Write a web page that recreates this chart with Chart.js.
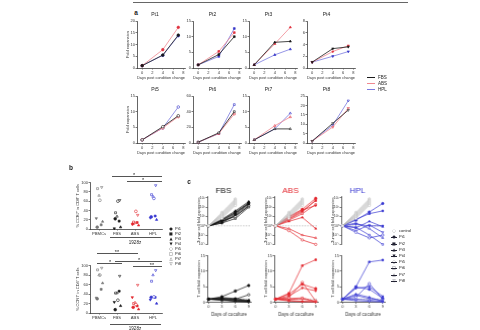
<!DOCTYPE html>
<html>
<head>
<meta charset="utf-8">
<script src="https://cdn.jsdelivr.net/npm/chart.js@4.4.1/dist/chart.umd.min.js"></script>
<style>
  body { margin: 0; background: #fff; }
  #fig { position: relative; width: 480px; height: 330px; overflow: hidden; background: #fff;
         font-family: "Liberation Sans", Arial, sans-serif; color: #222; }
  #fig canvas { position: absolute; }
  .t { position: absolute; white-space: nowrap; line-height: 1; transform: translate(-50%, -50%); }
  .l { position: absolute; white-space: nowrap; line-height: 1; transform: translateY(-50%); }
  .hl { position: absolute; height: 0; border-top: 1px solid #555; }
</style>
</head>
<body>
<div id="fig"></div>
<script>
const FONT = '"Liberation Sans", Arial, sans-serif';

/* DATA */

const patients = ["Pt1", "Pt2", "Pt3", "Pt4", "Pt5", "Pt6", "Pt7", "Pt8"];
const conditions = ["FBS", "ABS", "HPL"];

// panel a: fold expansion after condition change (days 0, 4, 7)
const aDays = [0, 4, 7];
const aXTicks = [0, 2, 4, 6, 8];
const aYMax = [20, 15, 15, 8, 15, 60, 15, 25];
const aYStep = [5, 5, 5, 2, 5, 20, 5, 5];
const aFBS = [[1, 5.5, 14], [1, 4.3, 10], [1, 8.2, 8.5], [1, 3.3, 3.6],
              [1, 5.2, 8.7], [1, 13, 40], [1, 4.5, 4.5], [1, 10.5, 17.5]];
const aABS = [[1, 7.8, 17.3], [1, 5.3, 11.3], [1, 7.7, 13], [1, 2.8, 3.8],
              [1, 4.8, 8.4], [1, 12, 37], [1, 5.5, 8.3], [1, 8.5, 18.5]];
const aHPL = [[1, 5.4, 13.7], [1, 3.7, 12.6], [1, 4.2, 6], [1, 2.0, 2.8],
              [1, 4.8, 11.5], [1, 12, 49], [1, 4.5, 9.5], [1, 9.5, 22.5]];

// panel b: % CCR7+ (one array per group, Pt1..Pt8)
const bGroups = ["PBMCs", "FBS", "ABS", "HPL"];
const bYTicks = [0, 20, 40, 60, 80, 100];
const bCD8 = [
  [4, 9, 16, 23, 62, 87, 72, 90],
  [22, 17, 4, 1, 60, 35, 27, 62],
  [12, 14, 8, 10, 38, 15, 13, 30],
  [26, 28, 20, 24, 66, 74, 70, 94]
];
const bCD4 = [
  [30, 50, 63, 32, 80, 91, 80, 95],
  [7, 46, 15, 23, 27, 42, 42, 78],
  [12, 15, 8, 33, 18, 20, 22, 59],
  [33, 33, 20, 28, 34, 67, 80, 90]
];

// panel c: coculture (days 0, 3, 6, 9)
const cDays = [0, 3, 6, 9];
const cDayTicks = [0, 3, 6, 9];
const cLogTicks = [0.01, 0.1, 1, 10, 100, 1000];
const cLogLabels = ["10\u207B\u00B2", "10\u207B\u00B9", "10\u2070", "10\u00B9", "10\u00B2", "10\u00B3"];
const cLinTicks = [0, 5, 10, 15];
const cCtrlDays = [0, 3, 6];
const cCtrl = [[1, 6, 150], [1, 8, 200], [1, 10, 260], [1, 12, 330],
               [1, 15, 420], [1, 18, 520], [1, 22, 650], [1, 28, 800]];
const cTumorFBS = [[1, 4, 30, 300], [1, 3, 20, 250], [1, 5, 40, 400], [1, 2, 15, 200],
                   [1, 3, 10, 150], [1, 2, 6, 100], [1, 4, 25, 250], [1, 3, 12, 120]];
const cTumorABS = [[1, 10, 60, 900], [1, 6, 40, 500], [1, 3, 8, 0.5], [1, 8, 50, 150],
                   [1, 0.3, 0.03, 0.01], [1, 4, 20, 200], [1, 0.5, 0.1, 0.05], [1, 5, 30, 600]];
const cTumorHPL = [[1, 4, 30, 250], [1, 5, 20, 40], [1, 0.6, 3, 0.8], [1, 1.5, 1, 1],
                   [1, 0.2, 0.05, 0.1], [1, 0.7, 0.1, 0.01], [1, 2, 0.5, 0.05], [1, 0.3, 1.2, 0.2]];
const cTcellFBS = [[1, 1.8, 3.6, 5.4], [1, 1.5, 1.2, 0.6], [1, 0.8, 0.5, 0.3], [1, 1.2, 0.9, 0.4],
                   [1, 1.3, 1.0, 2.4], [1, 0.6, 0.4, 0.2], [1, 1.0, 0.7, 0.5], [1, 0.9, 0.3, 0.1]];
const cTcellABS = [[1, 2.6, 5.8, 4.4], [1, 2.9, 11.8, 13.7], [1, 0.6, 0.3, 0.2], [1, 2.0, 4.6, 3.7],
                   [1, 1.5, 6.4, 0.4], [1, 1.2, 1.4, 0.3], [1, 0.9, 1.1, 0.2], [1, 0.4, 0.2, 0.1]];
const cTcellHPL = [[1, 4.9, 4.2, 1.3], [1, 5.0, 13.0, 13.6], [1, 2.6, 1.6, 0.3], [1, 4.5, 5.0, 1.9],
                   [1, 1.6, 6.0, 1.0], [1, 2.2, 1.2, 0.6], [1, 1.0, 0.7, 0.2], [1, 0.5, 0.3, 0.1]];

/* STYLE */

const ptStyle = ["circle", "rect", "triangle", "triangle", "circle", "rect", "triangle", "triangle"];
const ptRot = [0, 0, 0, 180, 0, 0, 0, 180];
const ptOpen = [false, false, false, false, true, true, true, true];
const ptGlyph = ["\u25CF", "\u25A0", "\u25B2", "\u25BC", "\u25CB", "\u25A1", "\u25B3", "\u25BD"];
const bJitter = [-0.1, 0.12, 0.2, -0.15, 0.05, -0.08, 0.0, 0.15];

const aLine = ["#1a1a1a", "#f08890", "#7a7ae0"];
const aMark = ["#1a1a1a", "#e03340", "#3535c8"];
const bCol = ["#777", "#1a1a1a", "#e3262d", "#3a3ad2"];
const cCol = ["#111", "#e3262d", "#3a3ad2"];
const CTRL = "#b4b4b4";
const INK = "#222";

Chart.defaults.font.family = FONT;
Chart.defaults.plugins.legend.display = false;
Chart.defaults.plugins.tooltip.enabled = false;
Chart.defaults.animation = false;

const fig = document.getElementById("fig");

function text(str, x, y, size, extra) {
  const d = document.createElement("div");
  d.className = (extra && extra.left) ? "l" : "t";
  d.textContent = str;
  d.style.left = x + "px";
  d.style.top = y + "px";
  d.style.fontSize = size + "px";
  if (extra && extra.color) d.style.color = extra.color;
  if (extra && extra.bold) d.style.fontWeight = "bold";
  if (extra && extra.family) d.style.fontFamily = extra.family;
  fig.appendChild(d);
  return d;
}

function hline(x1, x2, y, color) {
  const d = document.createElement("div");
  d.className = "hl";
  d.style.left = x1 + "px";
  d.style.top = y + "px";
  d.style.width = (x2 - x1) + "px";
  if (color) d.style.borderTopColor = color;
  fig.appendChild(d);
}

// dotted reference line at a y value
const refLine = {
  id: "refLine",
  beforeDatasetsDraw(chart, args, opts) {
    if (opts.value === undefined) return;
    const { ctx, chartArea: a } = chart;
    const py = chart.scales.y.getPixelForValue(opts.value);
    ctx.save();
    ctx.strokeStyle = "#bbb";
    ctx.lineWidth = 0.8;
    ctx.setLineDash([1.5, 1.2]);
    ctx.beginPath();
    ctx.moveTo(a.left, py);
    ctx.lineTo(a.right, py);
    ctx.stroke();
    ctx.restore();
  }
};

function axis(size, extra) {
  return Object.assign({
    grid: { drawOnChartArea: false, tickLength: 1.5, color: INK, lineWidth: 0.6 },
    border: { color: INK, width: 0.7 },
    ticks: { font: { size: size }, color: "#333", padding: 0.5, autoSkip: false, maxRotation: 0 }
  }, extra);
}

function axisTitle(str, size) {
  return { display: true, text: str, font: { size: size }, color: "#333", padding: 0 };
}

// box: x,y = plot area top-left; w,h = plot size; yW = y axis width; xH = x axis height; tH = title height
function makeChart(box, config) {
  const padT = 4, padB = 4, padR = 6;
  const canvas = document.createElement("canvas");
  const cw = box.yW + box.w + padR;
  const ch = padT + box.tH + box.h + box.xH + padB;
  canvas.width = cw;
  canvas.height = ch;
  canvas.style.width = cw + "px";
  canvas.style.height = ch + "px";
  canvas.style.left = (box.x - box.yW) + "px";
  canvas.style.top = (box.y - box.tH - padT) + "px";
  fig.appendChild(canvas);
  const o = config.options;
  o.responsive = false;
  o.animation = false;
  o.devicePixelRatio = 1;
  o.layout = { padding: { top: padT, bottom: padB, right: padR, left: 0 } };
  o.scales.y.afterFit = s => { s.width = box.yW; };
  if (o.scales.x.display !== false) o.scales.x.afterFit = s => { s.height = box.xH; };
  return new Chart(canvas, config);
}

/* PANEL A */

hline(133, 408, 2, "#666");
text("a", 136, 13, 6.5, { bold: true });

const aCols = [137, 193, 249, 307];
const aRows = [21, 96];

patients.forEach((pt, i) => {
  const first = i % 4 === 0;
  const series = [aFBS[i], aABS[i], aHPL[i]];
  makeChart({ x: aCols[i % 4], y: aRows[Math.floor(i / 4)], w: 48, h: 47, yW: first ? 12 : 9, xH: 12, tH: 9 }, {
    type: "line",
    data: {
      datasets: conditions.map((c, k) => ({
        label: c,
        data: aDays.map((d, j) => ({ x: d, y: series[k][j] })),
        borderColor: aLine[k],
        borderWidth: 0.8,
        pointStyle: ptStyle[i],
        pointRotation: ptRot[i],
        pointRadius: 1.3,
        pointBorderWidth: 0.6,
        pointBorderColor: aMark[k],
        pointBackgroundColor: ptOpen[i] ? "#fff" : aMark[k],
        clip: false
      }))
    },
    options: {
      plugins: {
        title: { display: true, text: pt, color: "#222", font: { size: 5, weight: "normal" }, padding: { top: 0, bottom: 3 } }
      },
      scales: {
        x: axis(4, {
          type: "linear", min: -1, max: 8.3,
          afterBuildTicks: s => { s.ticks = aXTicks.map(v => ({ value: v })); },
          title: axisTitle("Days post condition change", 4)
        }),
        y: axis(4, {
          type: "linear", min: 0, max: aYMax[i],
          ticks: { font: { size: 4 }, color: "#333", padding: 0.5, stepSize: aYStep[i] },
          title: first ? axisTitle("Fold expansion", 4) : { display: false }
        })
      }
    }
  });
});

// legend of panel a
conditions.forEach((c, k) => {
  const y = 77 + k * 6;
  const ln = document.createElement("div");
  ln.className = "hl";
  ln.style.left = "367px";
  ln.style.top = y + "px";
  ln.style.width = "8px";
  ln.style.borderTop = "1px solid " + aLine[k];
  fig.appendChild(ln);
  text(c, 378, y + 0.5, 4.5, { left: true });
});

/* PANEL B */

text("b", 71, 168, 6.5, { bold: true });

const bTop = [182, 265];
const bH = [47, 48];
const bTitles = ["% CCR7\u207A in CD8\u207A T cells", "% CCR7\u207A in CD4\u207A T cells"];

[bCD8, bCD4].forEach((vals, r) => {
  makeChart({ x: 90, y: bTop[r], w: 72, h: bH[r], yW: 15, xH: 7, tH: 0 }, {
    type: "scatter",
    data: {
      datasets: bGroups.map((g, gi) => ({
        label: g,
        data: vals[gi].map((v, p) => ({ x: gi + bJitter[p], y: v })),
        pointStyle: ptStyle,
        pointRotation: ptRot,
        pointRadius: 1.4,
        pointBorderWidth: 0.6,
        pointBorderColor: bCol[gi],
        pointBackgroundColor: ptOpen.map(o => o ? "#fff" : bCol[gi]),
        clip: false
      }))
    },
    options: {
      scales: {
        x: axis(4.2, {
          type: "linear", min: -0.5, max: 3.5,
          afterBuildTicks: s => { s.ticks = bGroups.map((g, gi) => ({ value: gi })); },
          ticks: { font: { size: 4.2 }, color: "#333", padding: 0.5, autoSkip: false, maxRotation: 0,
                   callback: v => bGroups[Math.round(v)] }
        }),
        y: axis(4, {
          type: "linear", min: 0, max: 100,
          afterBuildTicks: s => { s.ticks = bYTicks.map(v => ({ value: v })); },
          title: axisTitle(bTitles[r], 4)
        })
      }
    }
  });
});

// 1928z brackets
hline(110, 161, 237);
text("1928z", 135, 243, 4.5);
hline(110, 161, 324);
text("1928z", 135, 329, 4.5);

// significance bars
const sigBars = [
  [176, 112, 162, "*", 134], [181, 127, 162, "*", 143],
  [253, 97, 138, "**", 117], [261, 115, 162, "*", 139],
  [263, 97, 122, "*", 110], [266, 133, 162, "**", 152]
];
sigBars.forEach(([y, x1, x2, s, sx]) => {
  hline(x1, x2, y);
  text(s, sx, y - 0.5, 5.5);
});

// legend of panel b
patients.forEach((pt, p) => {
  const y = 229 + p * 5;
  text(ptGlyph[p], 171, y, 4, { family: '"DejaVu Sans", sans-serif' });
  text(pt, 175, y, 4, { left: true });
});

/* PANEL C */

text("c", 189, 182, 6.5, { bold: true });

const cX = [207, 274, 341];
const cTumor = [cTumorFBS, cTumorABS, cTumorHPL];
const cTcell = [cTcellFBS, cTcellABS, cTcellHPL];

function patientLines(sets, color) {
  return sets.map((vals, p) => ({
    label: patients[p],
    data: cDays.map((d, j) => ({ x: d, y: vals[j] })),
    borderColor: color,
    borderWidth: 0.7,
    pointStyle: ptStyle[p],
    pointRotation: ptRot[p],
    pointRadius: 1.2,
    pointBorderWidth: 0.6,
    pointBorderColor: color,
    pointBackgroundColor: ptOpen[p] ? "#fff" : color,
    clip: false
  }));
}

conditions.forEach((c, k) => {
  // tumor cell fold expansion (log)
  const ctrl = cCtrl.map(vals => ({
    label: "control",
    data: cCtrlDays.map((d, j) => ({ x: d, y: vals[j] })),
    borderColor: CTRL,
    borderWidth: 0.5,
    pointStyle: "circle",
    pointRadius: 1.1,
    pointBorderWidth: 0.5,
    pointBorderColor: CTRL,
    pointBackgroundColor: "#fff",
    clip: false
  }));
  makeChart({ x: cX[k], y: 196, w: 43.5, h: 49, yW: 11, xH: 0, tH: 10 }, {
    type: "line",
    data: { datasets: ctrl.concat(patientLines(cTumor[k], cCol[k])) },
    options: {
      plugins: {
        title: { display: true, text: c, color: cCol[k], font: { size: 8, weight: "normal" }, padding: { top: 0, bottom: 0.4 } },
        refLine: { value: 1 }
      },
      scales: {
        x: { type: "linear", min: -0.3, max: 9.5, display: false },
        y: axis(3.6, {
          type: "logarithmic", min: 0.01, max: 1600,
          afterBuildTicks: s => { s.ticks = cLogTicks.map(v => ({ value: v })); },
          ticks: { font: { size: 3.6 }, color: "#333", padding: 0.5, autoSkip: false,
                   callback: (v, idx) => cLogLabels[idx] },
          title: axisTitle("Tumor cell fold expansion", 4)
        })
      }
    },
    plugins: [refLine]
  });

  // T cell fold expansion (linear)
  makeChart({ x: cX[k], y: 255, w: 43.5, h: 47, yW: 11, xH: 14.5, tH: 0 }, {
    type: "line",
    data: { datasets: patientLines(cTcell[k], cCol[k]) },
    options: {
      plugins: { refLine: { value: 1 } },
      scales: {
        x: axis(4, {
          type: "linear", min: -0.3, max: 9.5,
          afterBuildTicks: s => { s.ticks = cDayTicks.map(v => ({ value: v })); },
          title: axisTitle("Days of coculture", 4.5)
        }),
        y: axis(4, {
          type: "linear", min: 0, max: 15,
          afterBuildTicks: s => { s.ticks = cLinTicks.map(v => ({ value: v })); },
          title: axisTitle("T cell fold expansion", 4)
        })
      }
    },
    plugins: [refLine]
  });
});

// legend of panel c
text("\u25CB", 394, 231, 4, { color: "#888", family: '"DejaVu Sans", sans-serif' });
text("control", 399, 231, 4, { left: true });
patients.forEach((pt, p) => {
  const y = 237.3 + p * 6.2;
  hline(391, 397, y, "#223");
  text(ptGlyph[p], 394, y, 4, { color: "#223", family: '"DejaVu Sans", sans-serif' });
  text(pt, 399, y, 4, { left: true });
});
</script>
</body>
</html>
